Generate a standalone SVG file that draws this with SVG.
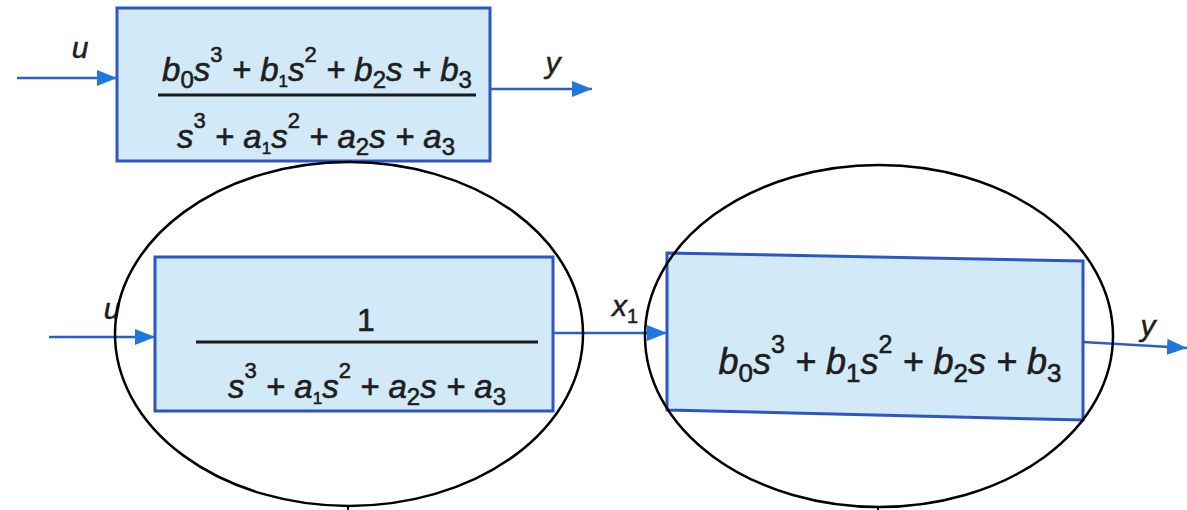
<svg xmlns="http://www.w3.org/2000/svg" width="1187" height="510" viewBox="0 0 1187 510">
<defs>
<style>
.box{fill:#d2eaf7;stroke:#2d55c4;stroke-width:3}
.wire{stroke:#2a5fc9;stroke-width:2.5;fill:none}
.frac{stroke:#1a1a1a;stroke-width:3}
.ell{fill:none;stroke:#000;stroke-width:2.5}
.eq{font-family:"Liberation Sans",Arial,sans-serif;font-style:italic;fill:#1e1e1e;stroke:#1e1e1e;stroke-width:0.6}
.lbl{font-family:"Liberation Sans",Arial,sans-serif;font-style:italic;fill:#1e1e1e;stroke:#1e1e1e;stroke-width:0.5;font-size:30px}
.n{font-style:normal}
</style>
<marker id="ah" viewBox="0 0 20 16" refX="20" refY="8" markerWidth="20" markerHeight="16" markerUnits="userSpaceOnUse" orient="auto">
<path d="M0,0 L20,8 L0,16 Z" fill="#1f76e0"/>
</marker>
</defs>
<rect width="1187" height="510" fill="#fff"/>

<g id="top-block">
<rect class="box" x="117" y="8" width="373" height="153"/>
<text class="eq" x="317" y="81" font-size="33" text-anchor="middle">b<tspan class="n" font-size="24" dy="7">0</tspan><tspan dy="-7">s</tspan><tspan class="n" font-size="22" dy="-19">3</tspan><tspan dy="19"> + b</tspan><tspan class="n" font-size="17" dy="6">1</tspan><tspan dy="-6">s</tspan><tspan class="n" font-size="22" dy="-19">2</tspan><tspan dy="19"> + b</tspan><tspan class="n" font-size="24" dy="7">2</tspan><tspan dy="-7">s + b</tspan><tspan class="n" font-size="24" dy="7">3</tspan></text>
<line class="frac" x1="158" y1="95" x2="476" y2="95"/>
<text class="eq" x="316" y="148" font-size="33" text-anchor="middle">s<tspan class="n" font-size="22" dy="-20">3</tspan><tspan dy="20"> + a</tspan><tspan class="n" font-size="17" dy="6">1</tspan><tspan dy="-6">s</tspan><tspan class="n" font-size="22" dy="-20">2</tspan><tspan dy="20"> + a</tspan><tspan class="n" font-size="24" dy="7">2</tspan><tspan dy="-7">s + a</tspan><tspan class="n" font-size="24" dy="7">3</tspan></text>
</g>

<g id="block-1">
<rect class="box" x="155" y="257" width="398" height="154"/>
<text class="eq" x="366" y="331" font-size="32" text-anchor="middle" style="font-style:normal">1</text>
<line class="frac" x1="196" y1="342" x2="538" y2="342"/>
<text class="eq" x="367" y="398" font-size="33" text-anchor="middle">s<tspan class="n" font-size="22" dy="-20">3</tspan><tspan dy="20"> + a</tspan><tspan class="n" font-size="17" dy="6">1</tspan><tspan dy="-6">s</tspan><tspan class="n" font-size="22" dy="-20">2</tspan><tspan dy="20"> + a</tspan><tspan class="n" font-size="24" dy="7">2</tspan><tspan dy="-7">s + a</tspan><tspan class="n" font-size="24" dy="7">3</tspan></text>
</g>

<g id="block-2">
<path class="box" d="M667,253 L1083,261 L1083,420 L667,410 Z"/>
<text class="eq" x="890" y="374" font-size="36" text-anchor="middle">b<tspan class="n" font-size="26" dy="8">0</tspan><tspan dy="-8">s</tspan><tspan class="n" font-size="25" dy="-21">3</tspan><tspan dy="21"> + b</tspan><tspan class="n" font-size="26" dy="8">1</tspan><tspan dy="-8">s</tspan><tspan class="n" font-size="25" dy="-21">2</tspan><tspan dy="21"> + b</tspan><tspan class="n" font-size="26" dy="8">2</tspan><tspan dy="-8">s + b</tspan><tspan class="n" font-size="26" dy="8">3</tspan></text>
</g>

<g id="connectors">
<line class="wire" x1="17" y1="78" x2="117" y2="78" marker-end="url(#ah)"/>
<line class="wire" x1="490" y1="89" x2="592" y2="89" marker-end="url(#ah)"/>
<line class="wire" x1="49" y1="337" x2="155" y2="337" marker-end="url(#ah)"/>
<line class="wire" x1="553" y1="333" x2="667" y2="333" marker-end="url(#ah)"/>
<line class="wire" x1="1083" y1="342" x2="1187" y2="348" marker-end="url(#ah)"/>
</g>

<g id="labels">
<text class="lbl" x="80" y="58" text-anchor="middle">u</text>
<text class="lbl" x="553" y="73" text-anchor="middle">y</text>
<text class="lbl" x="112" y="319" text-anchor="middle">u</text>
<text class="lbl" x="612" y="316">x<tspan class="n" font-size="20" dy="7">1</tspan></text>
<text class="lbl" x="1148" y="336" text-anchor="middle">y</text>
</g>

<g id="ellipses">
<ellipse class="ell" cx="349" cy="334" rx="234" ry="172"/>
<ellipse class="ell" cx="879" cy="336" rx="234" ry="171"/>
<line stroke="#000" stroke-width="2" x1="348" y1="505" x2="348" y2="510"/>
<line stroke="#000" stroke-width="2" x1="878" y1="507" x2="878" y2="510"/>
</g>
</svg>
